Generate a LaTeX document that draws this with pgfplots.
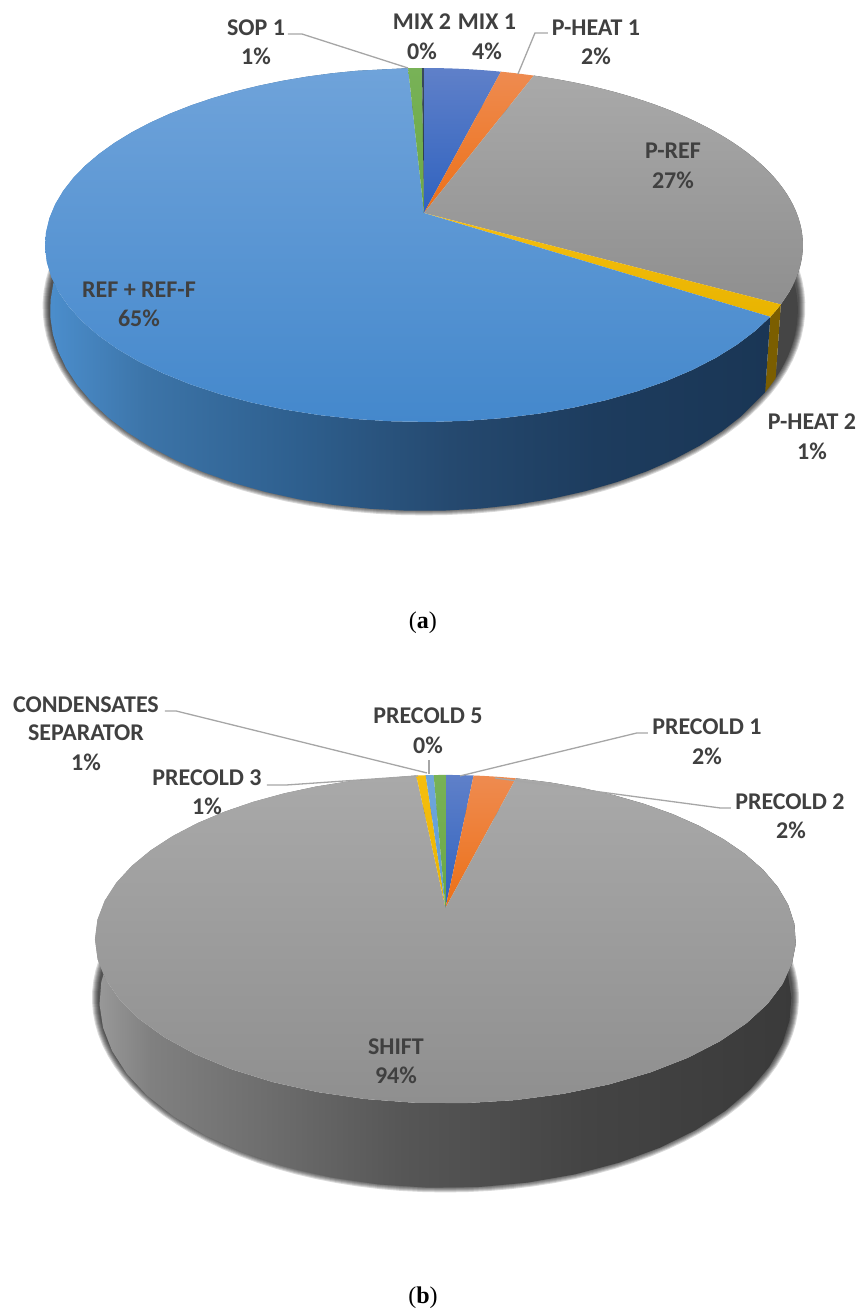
\documentclass[border=0pt]{standalone}
\usepackage{fontspec}
\usepackage{pgfplots}
\pgfplotsset{compat=1.18}
\setmainfont{Liberation Serif}
\newfontfamily\lab{Carlito}

\definecolor{ink}{HTML}{404040}
\definecolor{leader}{HTML}{A6A6A6}
% top-surface colours: lighter at the back edge, deeper towards the front
\definecolor{blueT}{HTML}{6FA3DA}\definecolor{blueB}{HTML}{4488CC}
\definecolor{royalT}{HTML}{5F80C9}\definecolor{royalB}{HTML}{2F62BF}
\definecolor{orangeT}{HTML}{EE8B50}\definecolor{orangeB}{HTML}{ED7017}
\definecolor{grayT}{HTML}{A9A9A9}\definecolor{grayB}{HTML}{8F8F8F}
\definecolor{goldT}{HTML}{F6BE10}\definecolor{goldB}{HTML}{E8B400}
\definecolor{greenT}{HTML}{78B257}\definecolor{greenB}{HTML}{6BA845}
\definecolor{skyT}{HTML}{70A6DC}\definecolor{skyB}{HTML}{5B9BD5}
\definecolor{inkT}{HTML}{3A4A5A}\definecolor{inkB}{HTML}{2A3A4A}
\definecolor{sideGray}{HTML}{454545}
\definecolor{sideGold}{HTML}{7B5E00}

% side walls, shaded left to right (the path box spans 25bp to 75bp)
\definecolor{b1}{HTML}{4C8FCE}
\definecolor{b2}{HTML}{3C74A8}
\definecolor{b3}{HTML}{2E5F8E}
\definecolor{b4}{HTML}{25496F}
\definecolor{b5}{HTML}{1D3C5E}
\definecolor{b6}{HTML}{1A3655}
\pgfdeclarehorizontalshading{wallblue}{100bp}{
  color(0bp)=(b1);
  color(25bp)=(b1);
  color(32bp)=(b2);
  color(42.5bp)=(b3);
  color(53bp)=(b4);
  color(63bp)=(b5);
  color(75bp)=(b6);
  color(100bp)=(b6)}
\definecolor{w1}{HTML}{9A9A9A}
\definecolor{w2}{HTML}{808080}
\definecolor{w3}{HTML}{6E6E6E}
\definecolor{w4}{HTML}{565656}
\definecolor{w5}{HTML}{444444}
\definecolor{w6}{HTML}{3A3A3A}
\pgfdeclarehorizontalshading{wallgray}{100bp}{
  color(0bp)=(w1);
  color(25bp)=(w1);
  color(29bp)=(w2);
  color(37bp)=(w3);
  color(47bp)=(w4);
  color(60bp)=(w5);
  color(75bp)=(w6);
  color(100bp)=(w6)}

\def\arcpts{-1,0,0.02,...,0.98,1}
\def\wallpts{0,0.02,...,0.98,1,1.01,1.03,...,1.99,2}
\newcommand\startpie[3]{\xdef\runtot{0}\xdef\Pie{#1}\xdef\apexX{#2}\xdef\apexY{#3}}

% one slice of the top surface: value in percent, colour at back, colour at front
\newcommand\slice[3]{%
  \pgfmathsetmacro\lo{\runtot}%
  \pgfmathsetmacro\hi{\runtot+#1}%
  \xdef\runtot{\hi}%
  \edef\next{\noexpand\addplot[forget plot,draw=none,top color=#2,bottom color=#3,samples at={\arcpts}]
    ({x<0 ? \apexX : top\Pie x(\lo+(\hi-\lo)*x)},{x<0 ? \apexY : top\Pie y(\lo+(\hi-\lo)*x)});}%
  \next}

% side wall under a slice, from the running total: value in percent, style
\newcommand\wall[2]{%
  \pgfmathsetmacro\lo{\runtot}%
  \pgfmathsetmacro\hi{\runtot+#1}%
  \xdef\runtot{\hi}%
  \edef\next{\noexpand\addplot[forget plot,draw=none,#2,samples at={\wallpts}]
    ({x<=1 ? top\Pie x(\lo+(\hi-\lo)*x) : low\Pie x(\hi-(\hi-\lo)*(x-1.01)/0.99)},
     {x<=1 ? top\Pie y(\lo+(\hi-\lo)*x) : low\Pie y(\hi-(\hi-\lo)*(x-1.01)/0.99)});}%
  \next}

% soft shadow: stacked translucent strokes round the lower rim, raised a little
\newcommand\softshadow{%
  \foreach \w in {15,13,11,9,7,5,3}{%
    \edef\next{\noexpand\addplot[forget plot,draw=black,draw opacity=0.15,line width=\w pt,domain=0:100,samples=121]
      ({low\Pie x(x)},{low\Pie y(x)-3});}%
    \next}}

\newcommand\lbl[3]{\node[anchor=base,text=ink,inner sep=0pt,font=\lab\bfseries\fontsize{24}{28}\selectfont] at (axis cs:#1,#2) {#3};}

\begin{document}
\begin{tikzpicture}
\begin{axis}[
  at={(0pt,0pt)},
  width=861pt,height=1309pt,scale only axis,
  hide axis,clip=false,
  xmin=0,xmax=861,ymin=0,ymax=1309,y dir=reverse,
  declare function={
    topax(\t)=424+372.7*sin(3.6*\t)/(1+0.1808*cos(3.6*\t));
    topay(\t)=(213-132.7*cos(3.6*\t))/(1+0.1808*cos(3.6*\t));
    lowax(\t)=424+368*sin(3.6*\t)/(1+0.177*cos(3.6*\t));
    loway(\t)=(274.4-146.1*cos(3.6*\t))/(1+0.177*cos(3.6*\t));
    topbx(\t)=445.5+344.1*sin(3.6*\t)/(1+0.1903*cos(3.6*\t));
    topby(\t)=(908+14.5*cos(3.6*\t))/(1+0.1903*cos(3.6*\t));
    lowbx(\t)=445.5+339.7*sin(3.6*\t)/(1+0.19*cos(3.6*\t));
    lowby(\t)=(965.5+3.2*cos(3.6*\t))/(1+0.19*cos(3.6*\t));
  },
]
\path (axis cs:0,0) rectangle (axis cs:861,1309);

% ---------- pie (a) ----------
\startpie{a}{424}{213}
\softshadow
\xdef\runtot{5.6}
\wall{27.5}{fill=sideGray}
\wall{1.1}{fill=sideGold}
\wall{65.0}{shade,shading=wallblue}

\startpie{a}{424}{213}
\slice{3.9}{royalT}{royalB}     % MIX 1
\slice{1.7}{orangeT}{orangeB}   % P-HEAT 1
\slice{27.5}{grayT}{grayB}      % P-REF
\slice{1.1}{goldT}{goldB}       % P-HEAT 2
\slice{65.0}{blueT}{blueB}      % REF + REF-F
\slice{0.7}{greenT}{greenB}     % SOP 1
\slice{0.1}{inkT}{inkB}         % MIX 2

\addplot[forget plot,draw=leader,line width=1.3pt] coordinates {(288,34) (302,34) (408,68)};
\addplot[forget plot,draw=leader,line width=1.3pt] coordinates {(548,33) (535,33) (518,74)};

\lbl{256}{36}{SOP 1}\lbl{256}{65}{1\%}
\lbl{422}{30}{MIX 2}\lbl{422}{60}{0\%}
\lbl{487}{30}{MIX 1}\lbl{487}{60}{4\%}
\lbl{596}{36}{P-HEAT 1}\lbl{596}{65}{2\%}
\lbl{673}{159}{P-REF}\lbl{673}{189}{27\%}
\lbl{812}{430}{P-HEAT 2}\lbl{812}{460}{1\%}
\lbl{139}{298}{REF + REF-F}\lbl{139}{327}{65\%}
\node[anchor=base,text=black,inner sep=0pt,font=\fontsize{24}{28}\selectfont] at (axis cs:423,629) {(\textbf{a})};

% ---------- pie (b) ----------
\startpie{b}{445.5}{908}
\softshadow
\xdef\runtot{3.9}
\wall{94.49}{shade,shading=wallgray}

\startpie{b}{445.5}{908}
\slice{1.55}{royalT}{royalB}    % PRECOLD 1
\slice{2.35}{orangeT}{orangeB}  % PRECOLD 2
\slice{94.49}{grayT}{grayB}     % SHIFT
\slice{0.52}{goldT}{goldB}      % PRECOLD 3
\slice{0.44}{skyT}{skyB}        % PRECOLD 5
\slice{0.65}{greenT}{greenB}    % CONDENSATES SEPARATOR

\addplot[forget plot,draw=leader,line width=1.3pt] coordinates {(165,711) (176,711) (427,773)};
\addplot[forget plot,draw=leader,line width=1.3pt] coordinates {(267,785) (287,785) (418,776)};
\addplot[forget plot,draw=leader,line width=1.3pt] coordinates {(429,760) (429,774)};
\addplot[forget plot,draw=leader,line width=1.3pt] coordinates {(648,733) (637,733) (460,776)};
\addplot[forget plot,draw=leader,line width=1.3pt] coordinates {(731,808) (720,808) (495,778)};

\lbl{86}{713}{CONDENSATES}\lbl{86}{741}{SEPARATOR}\lbl{86}{771}{1\%}
\lbl{207}{786}{PRECOLD 3}\lbl{207}{815}{1\%}
\lbl{428}{724}{PRECOLD 5}\lbl{428}{754}{0\%}
\lbl{707}{735}{PRECOLD 1}\lbl{707}{765}{2\%}
\lbl{790}{810}{PRECOLD 2}\lbl{791}{839}{2\%}
\lbl{396}{1055}{SHIFT}\lbl{396}{1084}{94\%}
\node[anchor=base,text=black,inner sep=0pt,font=\fontsize{24}{28}\selectfont] at (axis cs:423,1304) {(\textbf{b})};
\end{axis}
\end{tikzpicture}
\end{document}
